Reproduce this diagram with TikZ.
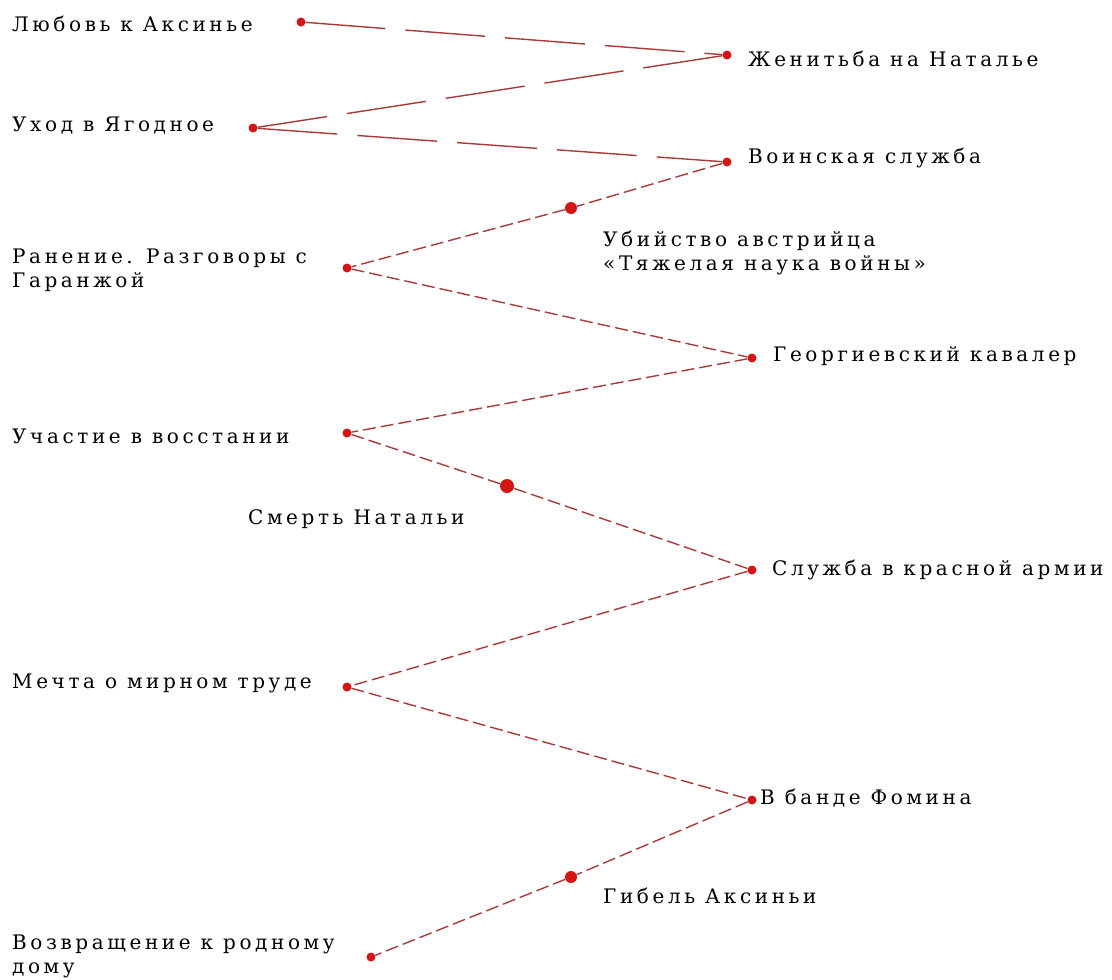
\documentclass[tikz,border=0pt]{standalone}
\usepackage{fontspec}
\setmainfont{DejaVu Serif}[LetterSpace=18]
\usepackage{tikz}

\definecolor{dotred}{HTML}{D41515}
\definecolor{linkred}{HTML}{A83A3A}

\tikzset{
  pt/.style={circle,fill=dotred,inner sep=0pt,minimum size=9pt},
  bigpt/.style={pt,minimum size=12pt},
  lbl/.style={anchor=west,inner sep=0pt,align=left,font=\fontsize{20}{24}\selectfont},
  link/.style={draw=linkred,line width=1.4pt,dash pattern=on 13pt off 5pt},
  longlink/.style={link,dash pattern=on 80pt off 20pt}
}

\begin{document}
\begin{tikzpicture}[x=1pt,y=-1pt]
	      \useasboundingbox (0,0) rectangle (1112,980);
	      % points of the path
	      \node[pt] (lubov) at (301,22) {};
	      \node[pt] (zhenitba) at (727,55) {};
	      \node[pt] (ukhod) at (253,128) {};
	      \node[pt] (sluzhba) at (727,162) {};
	      \node[bigpt] (ubiystvo) at (571,208) {};
	      \node[pt] (ranenie) at (347,268) {};
	      \node[pt] (georg) at (752,358) {};
	      \node[pt] (vosstanie) at (347,433) {};
	      \node[bigpt,minimum size=14pt] (smert) at (507,486) {};
	      \node[pt] (krasnaya) at (752,570) {};
	      \node[pt] (mechta) at (347,687) {};
	      \node[pt] (fomin) at (752,800) {};
	      \node[bigpt] (gibel) at (571,877) {};
	      \node[pt] (vozvrat) at (371,957) {};
	      % labels
	      \node[lbl] (tlubov) at (12,24) {Любовь к Аксинье};
	      \node[lbl] (tzhenitba) at (748,59) {Женитьба на Наталье};
	      \node[lbl] (tukhod) at (12,126) {Уход в Ягодное};
	      \node[lbl] (tsluzhba) at (748,158) {Воинская служба};
	      \node[lbl] (tubiystvo) at (603,253) {Убийство австрийца\\«Тяжелая наука войны»};
	      \node[lbl] (tranenie) at (12,270) {Ранение. Разговоры с\\Гаранжой};
	      \node[lbl] (tgeorg) at (773,356) {Георгиевский кавалер};
	      \node[lbl] (tvosstanie) at (12,436) {Участие в восстании};
	      \node[lbl] (tsmert) at (248,519) {Смерть Натальи};
	      \node[lbl] (tkrasnaya) at (772,570) {Служба в красной армии};
	      \node[lbl] (tmechta) at (12,683) {Мечта о мирном труде};
	      \node[lbl] (tfomin) at (760,798) {В банде Фомина};
	      \node[lbl] (tgibel) at (603,896) {Гибель Аксиньи};
	      \node[lbl] (tvozvrat) at (12,956) {Возвращение к родному\\дому};
	      % the zigzag
	      \draw[longlink] (lubov) -- (zhenitba);
	      \draw[longlink] (zhenitba) -- (ukhod);
	      \draw[longlink] (ukhod) -- (sluzhba);
	      \draw[link] (sluzhba) -- (ubiystvo) -- (ranenie);
	      \draw[link] (ranenie) -- (georg);
	      \draw[link] (georg) -- (vosstanie);
	      \draw[link] (vosstanie) -- (smert) -- (krasnaya);
	      \draw[link] (krasnaya) -- (mechta);
	      \draw[link] (mechta) -- (fomin);
	      \draw[link] (fomin) -- (gibel) -- (vozvrat);
\end{tikzpicture}
\end{document}
